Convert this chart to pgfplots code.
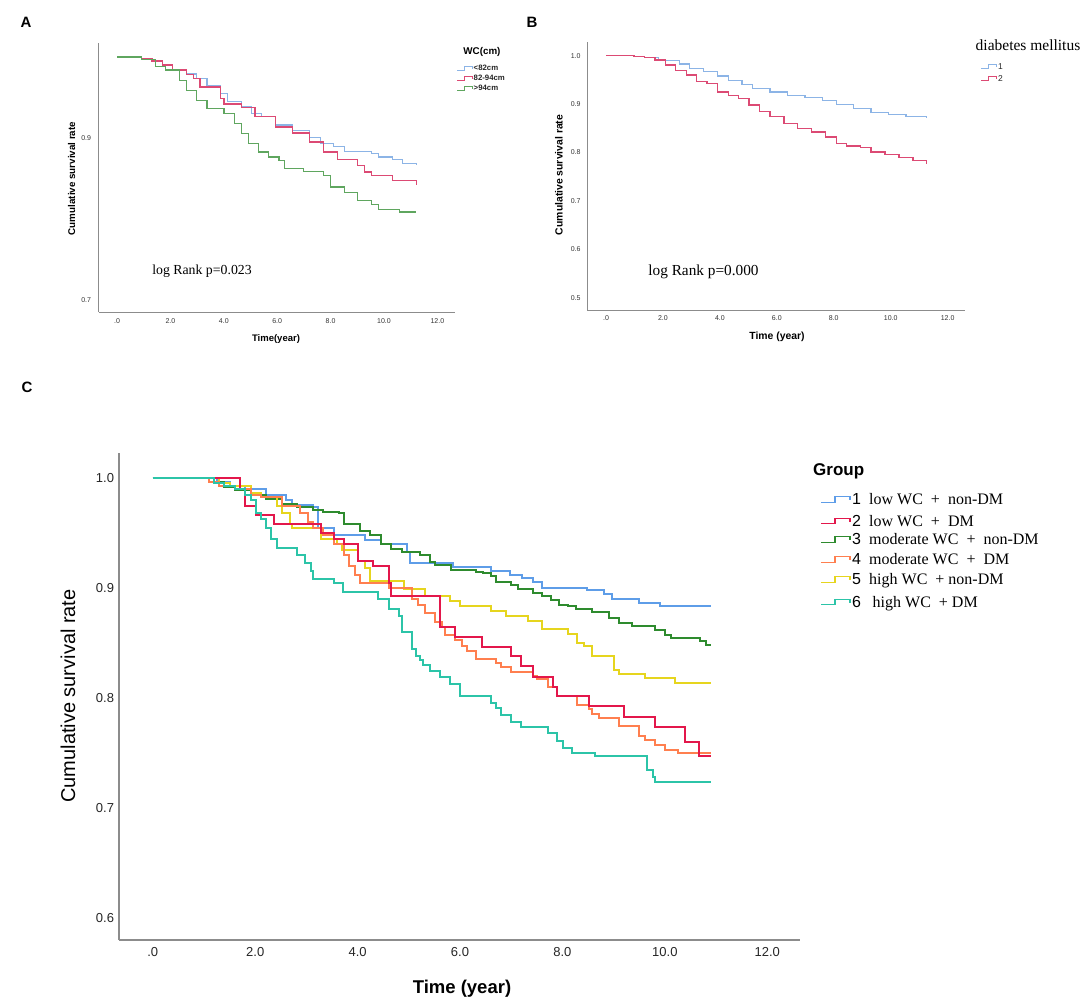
\documentclass[border=0pt]{standalone}
\usepackage{fontspec}
\setmainfont{Liberation Serif}
\setsansfont{Liberation Sans}
\usepackage{pgfplots}
\pgfplotsset{compat=1.18}
\definecolor{ablue}{HTML}{8CB4E6}
\definecolor{ared}{HTML}{DC4A74}
\definecolor{agreen}{HTML}{5FA65F}
\definecolor{cone}{HTML}{5E9DE8}
\definecolor{ctwo}{HTML}{E3174B}
\definecolor{cthree}{HTML}{2E8B2E}
\definecolor{cfour}{HTML}{FF7F4F}
\definecolor{cfive}{HTML}{E6D51E}
\definecolor{csix}{HTML}{2CC4A8}
\definecolor{axgray}{HTML}{8C8C8C}
\newcommand{\fsz}[1]{\fontsize{#1bp}{#1bp}\selectfont}
\pgfplotsset{
  km/.style={scale only axis, axis lines=left,
    axis line style={-, draw=axgray, line width=0.9bp},
    major tick length=0pt, minor tick num=0,
    xtick={0,2,4,6,8,10,12},
    xticklabels={.0,2.0,4.0,6.0,8.0,10.0,12.0},
    clip=true},
  kmline/.style={const plot, no marks, line width=1.2bp},
  cline/.style={const plot, no marks, line width=2bp}
}
\begin{document}
\begin{tikzpicture}[x=1bp,y=1bp]
\path[use as bounding box] (0,0) rectangle (1084,1004);

% ---------------- Panel A ----------------
\begin{axis}[km, at={(98.6bp,692bp)}, anchor=south west,
  width=356.4bp, height=269bp,
  xmin=-0.69, xmax=12.66, ymin=0.685, ymax=1.0173,
  ytick={0.7,0.9}, yticklabels={0.7,0.9},
  ticklabel style={font=\sffamily\fsz{7}, text=black!80},
  xticklabel style={yshift=-3bp}, yticklabel style={xshift=-4bp}]
\addplot[kmline, ablue] table {
0 1.0
0.93 0.998
1.31 0.996
1.70 0.990
2.08 0.984
2.60 0.979
2.98 0.973
3.37 0.965
3.88 0.955
4.14 0.945
4.65 0.939
5.04 0.930
5.42 0.926
5.94 0.916
6.58 0.909
7.22 0.901
7.61 0.893
8.12 0.889
8.51 0.8835
9.54 0.881
9.79 0.8765
10.31 0.873
10.69 0.868
11.21 0.867
};
\addplot[kmline, ared] table {
0 1.0
0.93 0.998
1.31 0.995
1.70 0.990
2.08 0.984
2.60 0.978
2.85 0.973
3.11 0.963
3.88 0.949
4.01 0.942
4.65 0.938
5.17 0.926
5.94 0.9136
6.58 0.906
7.22 0.895
7.74 0.8827
8.25 0.873
9.02 0.866
9.28 0.858
9.54 0.854
10.31 0.8476
11.21 0.8414
};
\addplot[kmline, agreen] table {
0 1.0
0.93 0.997
1.44 0.988
1.83 0.984
2.34 0.971
2.60 0.959
2.98 0.9466
3.37 0.936
4.01 0.930
4.40 0.918
4.65 0.905
4.91 0.893
5.30 0.8827
5.68 0.8765
6.07 0.8724
6.26 0.862
6.97 0.859
7.74 0.854
8.00 0.8394
8.51 0.833
9.02 0.823
9.54 0.818
9.79 0.8118
10.57 0.8085
11.21 0.8085
};
\end{axis}

% ---------------- Panel B ----------------
\begin{axis}[km, at={(587bp,694bp)}, anchor=south west,
  width=378bp, height=268.3bp,
  xmin=-0.667, xmax=12.61, ymin=0.4746, ymax=1.029,
  ytick={0.5,0.6,0.7,0.8,0.9,1.0}, yticklabels={0.5,0.6,0.7,0.8,0.9,1.0},
  ticklabel style={font=\sffamily\fsz{7}, text=black!80},
  xticklabel style={yshift=-2.5bp}, yticklabel style={xshift=-3bp}]
\addplot[kmline, ablue] table {
0 1.0
0.98 0.999
1.35 0.9965
1.84 0.990
2.57 0.983
2.94 0.974
3.43 0.967
3.92 0.958
4.29 0.948
4.78 0.941
5.15 0.932
5.76 0.925
6.37 0.9185
6.99 0.9137
7.60 0.908
8.09 0.900
8.70 0.891
9.31 0.882
9.93 0.8785
10.54 0.875
11.27 0.872
};
\addplot[kmline, ared] table {
0 1.0
0.98 0.999
1.35 0.997
1.72 0.991
2.08 0.981
2.45 0.970
2.82 0.960
3.19 0.946
3.55 0.943
3.92 0.925
4.29 0.9185
4.66 0.9116
5.02 0.898
5.39 0.884
5.76 0.874
6.25 0.860
6.74 0.849
7.23 0.8425
7.72 0.832
8.09 0.818
8.46 0.8135
8.95 0.810
9.31 0.801
9.80 0.7956
10.29 0.789
10.78 0.784
11.27 0.777
};
\end{axis}

% ---------------- Panel C ----------------
\begin{axis}[km, at={(119bp,64bp)}, anchor=south west,
  width=681bp, height=487bp,
  axis line style={-, draw=axgray, line width=1.3bp},
  xmin=-0.66, xmax=12.64, ymin=0.58, ymax=1.023,
  ytick={0.6,0.7,0.8,0.9,1.0}, yticklabels={0.6,0.7,0.8,0.9,1.0},
  ticklabel style={font=\sffamily\fsz{13}, text=black!85},
  xticklabel style={yshift=-4bp}, yticklabel style={xshift=-1.5bp}]
% 1 low WC + non-DM
\addplot[cline, cone] table {
0 1.000
1.25 0.997
1.50 0.993
1.80 0.990
2.21 0.985
2.60 0.980
2.72 0.976
3.13 0.974
3.23 0.955
3.54 0.948
4.15 0.944
4.45 0.940
4.96 0.933
5.02 0.923
5.87 0.919
6.61 0.916
6.97 0.912
7.22 0.909
7.42 0.906
7.61 0.9005
8.48 0.898
8.81 0.895
8.97 0.890
9.49 0.887
9.91 0.884
10.90 0.884
};
% 3 moderate WC + non-DM
\addplot[cline, cthree] table {
0 1.000
1.19 0.997
1.40 0.992
1.60 0.989
1.91 0.985
2.21 0.981
2.52 0.977
2.82 0.974
3.13 0.971
3.33 0.969
3.64 0.968
3.74 0.958
4.05 0.952
4.25 0.948
4.45 0.940
4.66 0.936
4.86 0.933
5.22 0.930
5.41 0.924
5.51 0.9213
5.83 0.917
6.32 0.915
6.45 0.9135
6.61 0.911
6.71 0.906
7.00 0.903
7.13 0.8995
7.42 0.896
7.61 0.893
7.77 0.889
7.93 0.8846
8.10 0.8834
8.26 0.881
8.58 0.878
8.90 0.873
9.10 0.8685
9.36 0.866
9.81 0.862
10.00 0.8576
10.13 0.855
10.68 0.852
10.81 0.848
10.90 0.848
};
% 5 high WC + non-DM
\addplot[cline, cfive] table {
0 1.000
1.29 0.996
1.50 0.993
1.91 0.987
2.11 0.983
2.42 0.975
2.52 0.968
2.67 0.958
2.72 0.955
3.28 0.945
3.59 0.940
3.69 0.935
4.00 0.925
4.15 0.918
4.25 0.907
4.90 0.899
5.32 0.8925
5.80 0.888
6.00 0.8834
6.61 0.8794
6.90 0.875
7.32 0.870
7.61 0.863
8.10 0.8585
8.29 0.850
8.42 0.847
8.58 0.8384
9.00 0.826
9.10 0.822
9.62 0.818
10.20 0.8135
10.90 0.8135
};
% 4 moderate WC + DM
\addplot[cline, cfour] table {
0 1.000
1.09 0.997
1.29 0.993
1.60 0.990
1.91 0.985
2.11 0.983
2.52 0.975
2.87 0.968
3.03 0.960
3.13 0.955
3.33 0.948
3.54 0.940
3.74 0.930
3.84 0.920
3.94 0.912
4.05 0.905
4.61 0.900
5.07 0.890
5.17 0.8846
5.32 0.877
5.51 0.869
5.64 0.865
5.70 0.857
5.90 0.853
6.03 0.847
6.13 0.843
6.32 0.836
6.71 0.832
6.80 0.828
7.00 0.8236
7.42 0.820
7.51 0.817
7.71 0.810
7.90 0.8018
8.29 0.794
8.52 0.790
8.58 0.786
8.71 0.782
9.10 0.775
9.49 0.766
9.62 0.7615
9.81 0.757
10.01 0.753
10.26 0.750
10.90 0.750
};
% 2 low WC + DM
\addplot[cline, ctwo] table {
0 1.000
1.70 0.990
1.80 0.975
2.01 0.967
2.36 0.958
3.28 0.950
3.54 0.945
3.74 0.940
4.00 0.925
4.30 0.920
4.61 0.905
4.66 0.8925
5.61 0.8646
5.90 0.856
6.42 0.8468
7.00 0.838
7.19 0.829
7.42 0.8196
7.81 0.810
7.90 0.8018
8.52 0.7925
9.20 0.783
9.81 0.774
10.39 0.760
10.67 0.747
10.90 0.747
};
% 6 high WC + DM
\addplot[cline, csix] table {
0 1.000
1.19 0.996
1.40 0.993
1.60 0.990
1.80 0.985
1.91 0.980
2.01 0.968
2.11 0.963
2.21 0.955
2.31 0.945
2.42 0.937
2.82 0.930
2.98 0.923
3.08 0.916
3.13 0.908
3.54 0.905
3.71 0.897
4.40 0.890
4.61 0.881
4.81 0.875
4.86 0.860
5.07 0.845
5.15 0.838
5.22 0.8343
5.28 0.8297
5.41 0.825
5.61 0.819
5.80 0.8127
6.00 0.8018
6.61 0.7955
6.71 0.7912
6.80 0.7849
7.00 0.7787
7.19 0.774
7.71 0.768
7.90 0.761
8.02 0.755
8.18 0.750
8.63 0.747
9.65 0.735
9.76 0.728
9.81 0.724
10.90 0.724
};
\end{axis}

% ---------------- Texts ----------------
\node[font=\sffamily\bfseries\fsz{15}] at (26,982) {A};
\node[font=\sffamily\bfseries\fsz{15}] at (532,982) {B};
\node[font=\sffamily\bfseries\fsz{15}] at (27,617) {C};

% Panel A labels
\node[rotate=90, font=\sffamily\bfseries\fsz{9.8}] at (71.5,825.5) {Cumulative survival rate};
\node[font=\sffamily\bfseries\fsz{9.5}] at (276,665) {Time(year)};
\node[font=\fsz{13.8}] at (202,733) {log Rank p=0.023};
% Panel A legend
\node[font=\sffamily\bfseries\fsz{9.8}] at (482,952.3) {WC(cm)};
\foreach \yy/\cc/\tt in {935.7/ablue/{<82cm}, 925.7/ared/{82-94cm}, 915.7/agreen/{>94cm}}{
  \draw[\cc, line width=1bp] (457,\yy-2) -- (464,\yy-2) -- (464,\yy+2) -- (472,\yy+2) -- (472,\yy-0.5);
  \node[anchor=west, inner sep=0pt, font=\sffamily\bfseries\fsz{7.8}, text=black!85] at (473.5,\yy) {\tt};
}

% Panel B labels
\node[rotate=90, font=\sffamily\bfseries\fsz{10.4}] at (559,829) {Cumulative survival rate};
\node[font=\sffamily\bfseries\fsz{10.4}] at (777,667) {Time (year)};
\node[font=\fsz{15.3}] at (703.5,732) {log Rank p=0.000};
% Panel B legend
\node[anchor=west, inner sep=0pt, font=\fsz{15.5}] at (975.5,959) {diabetes mellitus};
\foreach \yy/\cc/\tt in {937.3/ablue/1, 925.7/ared/2}{
  \draw[\cc, line width=1bp] (981,\yy-2) -- (988.5,\yy-2) -- (988.5,\yy+2) -- (996,\yy+2) -- (996,\yy-0.5);
  \node[anchor=west, inner sep=0pt, font=\sffamily\fsz{8.5}, text=black!85] at (998,\yy) {\tt};
}

% Panel C labels
\node[rotate=90, font=\sffamily\fsz{20}] at (68,308) {Cumulative survival rate};
\node[font=\sffamily\bfseries\fsz{18.5}] at (462,15) {Time (year)};
% Panel C legend
\node[anchor=west, inner sep=0pt, font=\sffamily\bfseries\fsz{17}] at (813,532.3) {Group};
\foreach \yy/\cc/\nn/\xx/\tt in {
  504.7/cone/1/869/{low WC\ \ +\ \ non-DM},
  483.3/ctwo/2/869/{low WC\ \ +\ \ DM},
  464.7/cthree/3/869/{moderate WC\ \ +\ \ non-DM},
  444.7/cfour/4/869/{moderate WC\ \ +\ \ DM},
  424.7/cfive/5/869/{high WC\ \ + non-DM},
  402.3/csix/6/872.5/{high WC\ \ + DM}}{
  \draw[\cc, line width=1.3bp] (821,\yy-3) -- (835,\yy-3) -- (835,\yy+2.5) -- (850,\yy+2.5) -- (850,\yy-1);
  \node[anchor=base west, inner sep=0pt, font=\sffamily\fsz{16}] at (852,\yy-5.5) {\nn};
  \node[anchor=base west, inner sep=0pt, font=\fsz{16}] at (\xx,\yy-5.5) {\tt};
}
\end{tikzpicture}
\end{document}
